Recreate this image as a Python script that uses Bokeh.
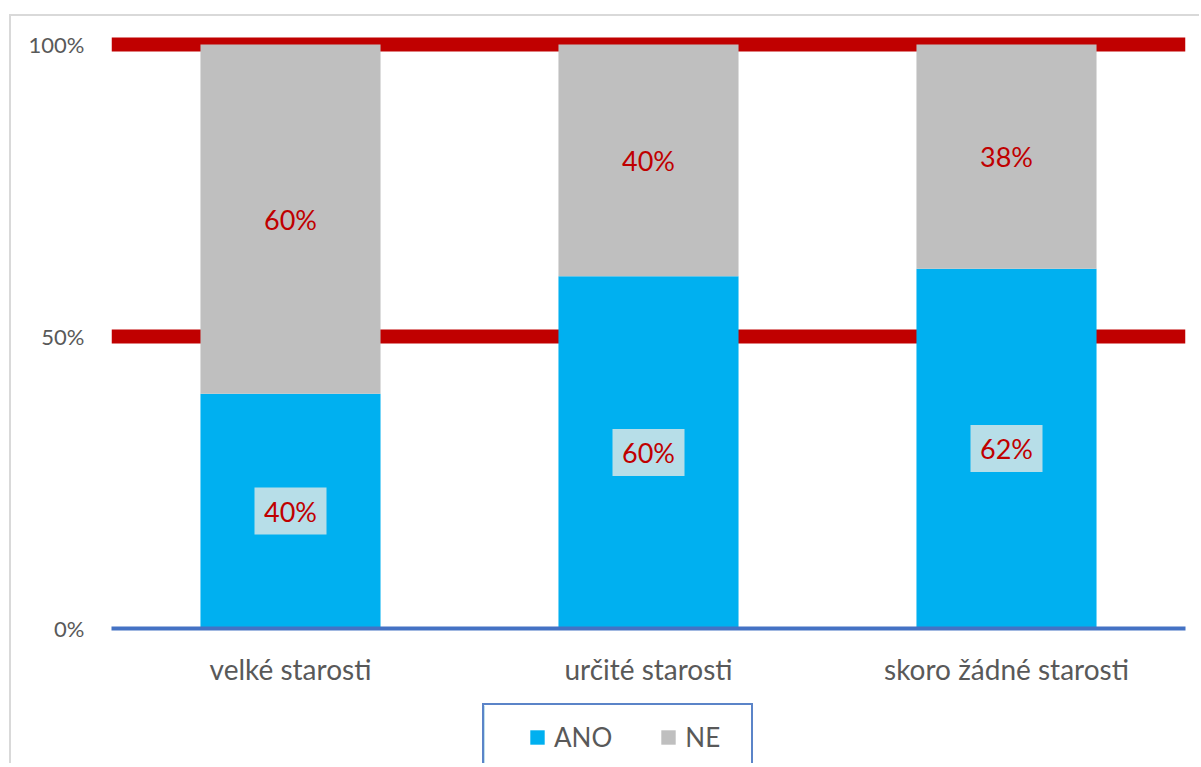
from bokeh.plotting import figure
from bokeh.layouts import column, row
from bokeh.models import ColumnDataSource, FixedTicker, Legend, LegendItem, Range1d
from bokeh.core.properties import value
from bokeh.embed import file_html
from bokeh.resources import INLINE

categories = ["velké starosti", "určité starosti", "skoro žádné starosti"]
series = ["ANO", "NE"]
ano = [40.2, 60.3, 61.6]
ne = [59.8, 39.7, 38.4]
ano_labels = ["40%", "60%", "62%"]
ne_labels = ["60%", "40%", "38%"]
colors = ["#00B0F0", "#BFBFBF"]
y_ticks = [0, 50, 100]
y_tick_labels = ["0%", "50%", "100%"]
grid_ticks = [50, 100]

FONT = "Lato"
TEXT_GREY = "#595959"

src = ColumnDataSource(dict(cat=categories, ANO=ano, NE=ne))

p = figure(x_range=categories, y_range=(0, 103.08), width=1188, height=687,
           output_backend="svg", toolbar_location=None,
           min_border_left=100, min_border_right=14, min_border_top=10, min_border_bottom=75)
p.outline_line_color = None

rs = p.vbar_stack(series, x="cat", width=0.503, color=colors, line_color=None, source=src)

ano_mid = [a / 2 for a in ano]
ne_mid = [a + n / 2 for a, n in zip(ano, ne)]
lab_ano = ColumnDataSource(dict(x=categories, y=ano_mid, t=ano_labels))
lab_ne = ColumnDataSource(dict(x=categories, y=ne_mid, t=ne_labels))

p.rect(x="x", y="y", width=72, height=47, width_units="screen", height_units="screen",
       fill_color="#B7DEE8", line_color=None, source=lab_ano)
for s in (lab_ano, lab_ne):
    p.text(x="x", y="y", text="t", text_align="center", text_baseline="middle",
           text_font=value(FONT), text_font_size="27px", text_color="#C00000", source=s)

# grid
p.xgrid.visible = False
p.ygrid.ticker = FixedTicker(ticks=grid_ticks)
p.ygrid.grid_line_color = "#C00000"
p.ygrid.grid_line_width = 14

# y axis
p.yaxis.ticker = FixedTicker(ticks=y_ticks)
p.yaxis.major_label_overrides = {t: l for t, l in zip(y_ticks, y_tick_labels)}
p.yaxis.axis_line_color = None
p.yaxis.major_tick_line_color = None
p.yaxis.minor_tick_line_color = None
p.yaxis.major_label_standoff = 21
p.yaxis.major_label_text_font = FONT
p.yaxis.major_label_text_font_size = "22px"
p.yaxis.major_label_text_color = TEXT_GREY

# x axis
p.xaxis.axis_line_color = "#4472C4"
p.xaxis.axis_line_width = 4
p.xaxis.major_tick_line_color = None
p.xaxis.minor_tick_line_color = None
p.xaxis.major_label_standoff = 17
p.xaxis.major_label_text_font = FONT
p.xaxis.major_label_text_font_size = "28px"
p.xaxis.major_label_text_color = TEXT_GREY

# legend panel (boxed, open at the bottom edge of the page)
q = figure(width=271, height=60, output_backend="svg", toolbar_location=None,
           x_range=Range1d(0, 1), y_range=Range1d(0, 1),
           x_axis_location=None, y_axis_location=None,
           min_border_left=0, min_border_right=0, min_border_top=0, min_border_bottom=0,
           styles={"border-left": "2px solid #5B84C8", "border-top": "2px solid #5B84C8",
                   "border-right": "2px solid #5B84C8"})
q.outline_line_color = None
q.grid.visible = False
leg_rs = []
for s, c in zip(series, colors):
    # keyed off-screen so only the legend swatch shows
    leg_rs.append(q.vbar(x=[-5], top=[1], width=0.1, color=c, line_color=None))
legend = Legend(items=[LegendItem(label=s, renderers=[r]) for s, r in zip(series, leg_rs)],
                orientation="horizontal", location=(44, 12), padding=0, margin=0,
                glyph_width=18, glyph_height=18, label_standoff=8, spacing=47,
                border_line_alpha=0, background_fill_alpha=0,
                label_text_font=FONT, label_text_font_size="26px", label_text_color=TEXT_GREY)
q.add_layout(legend, "center")

legend_row = row(q, margin=(0, 0, 0, 471))

layout = column(p, legend_row, spacing=0, margin=(14, 0, 0, 9),
                styles={"border-left": "2px solid #D9D9D9", "border-top": "2px solid #D9D9D9"})

open("out.html", "w").write(file_html(layout, INLINE))
